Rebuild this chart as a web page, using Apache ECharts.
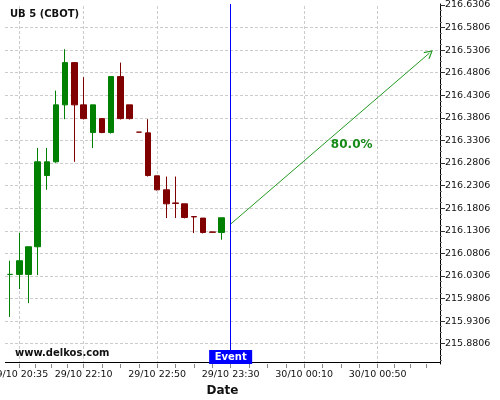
<!DOCTYPE html>
<html><head><meta charset="utf-8">
<script src="https://cdn.jsdelivr.net/npm/echarts@6.0.0/dist/echarts.min.js"></script>
<style>html,body{margin:0;padding:0;background:#fff}#c{width:500px;height:400px}</style>
</head><body><div id="c"></div>
<script>
// ---- data ----
const chartTitle = 'UB 5 (CBOT)';
const watermark = 'www.delkos.com';
const opens  = [216.0339,216.0339,216.0339,216.0952,216.2529,216.2833,216.4094,216.5030,216.4094,216.3481,216.3790,216.3481,216.4720,216.4094,216.3490,216.3474,216.2523,216.2213,216.1922,216.1903,216.1620,216.1587,216.1280,216.1268];
const closes = [216.0339,216.0642,216.0952,216.2833,216.2833,216.4094,216.5030,216.4094,216.3790,216.4094,216.3481,216.4720,216.3790,216.3790,216.3490,216.2529,216.2213,216.1903,216.1912,216.1600,216.1612,216.1268,216.1272,216.1594];
const lows   = [215.9397,216.0016,215.9706,216.0326,216.2213,216.2811,216.3777,216.2833,216.3770,216.3136,216.3468,216.3460,216.3770,216.3770,216.3490,216.2507,216.2198,216.1587,216.1587,216.1580,216.1255,216.1246,216.1272,216.1107];
const highs  = [216.0642,216.1257,216.0952,216.3142,216.3142,216.4410,216.5326,216.5030,216.4706,216.4094,216.3790,216.4720,216.5030,216.4094,216.3490,216.3777,216.2523,216.2507,216.2507,216.1903,216.1620,216.1587,216.1280,216.1594];
const xLabelIdx = [1, 8, 16, 24, 32, 40];
const xLabels = ['29/10 20:35','29/10 22:10','29/10 22:50','29/10 23:30','30/10 00:10','30/10 00:50'];
const xMinorTicks = [1,2.75,4.5,6.25,8,10,12,14,16,18,20,22,24,26,28,30,32,34,36,38,40,41.75,43.5,45.25];
const yTicks = [215.8806,215.9306,215.9806,216.0306,216.0806,216.1306,216.1806,216.2306,216.2806,216.3306,216.3806,216.4306,216.4806,216.5306,216.5806,216.6306];
const eventIdx = 24;
const eventLabel = 'Event';
const forecastFrom = [24, 216.1454];
const forecastTo = [45.63, 216.5241];
const forecastText = '80.0%';
const forecastTextPos = [37.17, 216.3205];
const xRange = [-0.555, 46.78];
const yRange = [215.8355, 216.6328];

// ---- build ----
const yMinor = [];
for (let i = 0; i < yTicks.length; i++) {
  for (let k = 1; k < 4; k++) {
    const v = yTicks[i] + k * 0.0125;
    if (v < yRange[1]) yMinor.push(+v.toFixed(5));
    const w = yTicks[i] - k * 0.0125;
    if (i === 0 && w > yRange[0]) yMinor.push(+w.toFixed(5));
  }
}
const candleData = opens.map((o, i) => [i, o, closes[i], lows[i], highs[i]]);
const FONT = '"DejaVu Sans", sans-serif';
const gridColors = yTicks.map((v, i) => i === yTicks.length - 1 ? 'rgba(0,0,0,0)' : '#cccccc');
const axisBase = yRange[0] + 0.0011; // half a pixel above the grid bottom, for a crisp line
const vGrid = xLabelIdx.map(i => ({xAxis: i}));

const chart = echarts.init(document.getElementById('c'), null, {renderer: 'canvas'});
chart.setOption({
  animation: false,
  backgroundColor: '#ffffff',
  grid: {left: 5, right: 60, top: 4, bottom: 36, containLabel: false, outerBoundsMode: 'none'},
  graphic: [
    {type: 'text', left: 10, top: 9.5, z: 50, style: {text: chartTitle, font: 'bold 10px ' + FONT, fill: '#111'}},
    {type: 'text', left: 15, top: 348, z: 50, style: {text: watermark, font: 'bold 10px ' + FONT, fill: '#111'}}
  ],
  xAxis: [{
    type: 'value', min: xRange[0], max: xRange[1], position: 'bottom',
    name: 'Date', nameLocation: 'middle', nameGap: 20,
    nameTextStyle: {fontFamily: FONT, fontWeight: 'bold', fontSize: 12, color: '#111'},
    axisLine: {show: false, onZero: false},
    axisTick: {show: true, length: 4, customValues: xMinorTicks, lineStyle: {color: '#888'}},
    axisLabel: {show: true, customValues: xLabelIdx, margin: 6, fontFamily: FONT, fontSize: 9.5, color: '#111',
      formatter: v => { const k = xLabelIdx.indexOf(Math.round(v)); return k >= 0 ? xLabels[k] : ''; }},
    splitLine: {show: false}
  }],
  yAxis: [{
    type: 'value', position: 'right', min: yRange[0], max: yRange[1],
    axisLine: {show: true, onZero: false, lineStyle: {color: '#000', width: 1}},
    axisTick: {show: true, length: 5, customValues: yTicks, lineStyle: {color: '#333'}},
    axisLabel: {show: true, customValues: yTicks, margin: 5, fontFamily: FONT, fontSize: 9.5, color: '#111',
      formatter: v => v.toFixed(4)},
    splitLine: {show: true, lineStyle: {color: gridColors, type: [3, 2], width: 1}}
  }, {
    type: 'value', position: 'right', min: yRange[0], max: yRange[1],
    axisLine: {show: false, onZero: false},
    axisTick: {show: true, length: 2, customValues: yMinor, lineStyle: {color: '#777'}},
    axisLabel: {show: false},
    splitLine: {show: false}
  }],
  series: [{
    type: 'line', xAxisIndex: 0, yAxisIndex: 0, data: [], z: 1, silent: true,
    markLine: {
      silent: true, symbol: ['none', 'none'], animation: false, z: 1,
      label: {show: false},
      lineStyle: {color: '#cccccc', width: 1, type: [3, 2]},
      data: vGrid
    }
  }, {
    type: 'candlestick', xAxisIndex: 0, yAxisIndex: 0,
    barWidth: 6,
    data: candleData,
    itemStyle: {color: '#008000', color0: '#800000', borderColor: '#008000', borderColor0: '#800000', borderWidth: 1},
    markLine: {
      silent: true, symbol: ['none', 'none'], animation: false,
      label: {show: false},
      lineStyle: {color: '#0000ff', width: 1, type: 'solid'},
      data: [
        {xAxis: eventIdx},
        {yAxis: axisBase, lineStyle: {color: '#000000', width: 1, type: 'solid'}}
      ]
    }
  }, {
    type: 'lines', coordinateSystem: 'cartesian2d', xAxisIndex: 0, yAxisIndex: 0,
    symbol: ['none', 'path://M5,0 L10,8 L9,9 L5,2.4 L1,9 L0,8 Z'], symbolSize: 9,
    lineStyle: {color: '#249a24', width: 1, opacity: 1, curveness: 0},
    data: [{coords: [forecastFrom, forecastTo]}],
    silent: true
  }, {
    type: 'scatter', xAxisIndex: 0, yAxisIndex: 0, symbolSize: 0, silent: true,
    itemStyle: {opacity: 1},
    data: [forecastTextPos],
    label: {show: true, position: 'inside', formatter: forecastText, fontFamily: FONT, fontWeight: 'bold', fontSize: 12, color: '#168a16'}
  }, {
    type: 'scatter', xAxisIndex: 0, yAxisIndex: 0, symbolSize: 0, silent: true, clip: false, z: 5,
    itemStyle: {opacity: 1},
    data: [[eventIdx, yRange[0]]],
    label: {show: true, position: 'top', distance: 0, formatter: eventLabel, fontFamily: FONT, fontWeight: 'bold', fontSize: 10,
      color: '#ffffff', backgroundColor: '#0000ff', padding: [1, 5.5, 1, 5.5], lineHeight: 12}
  }]
});
</script>
</body></html>
